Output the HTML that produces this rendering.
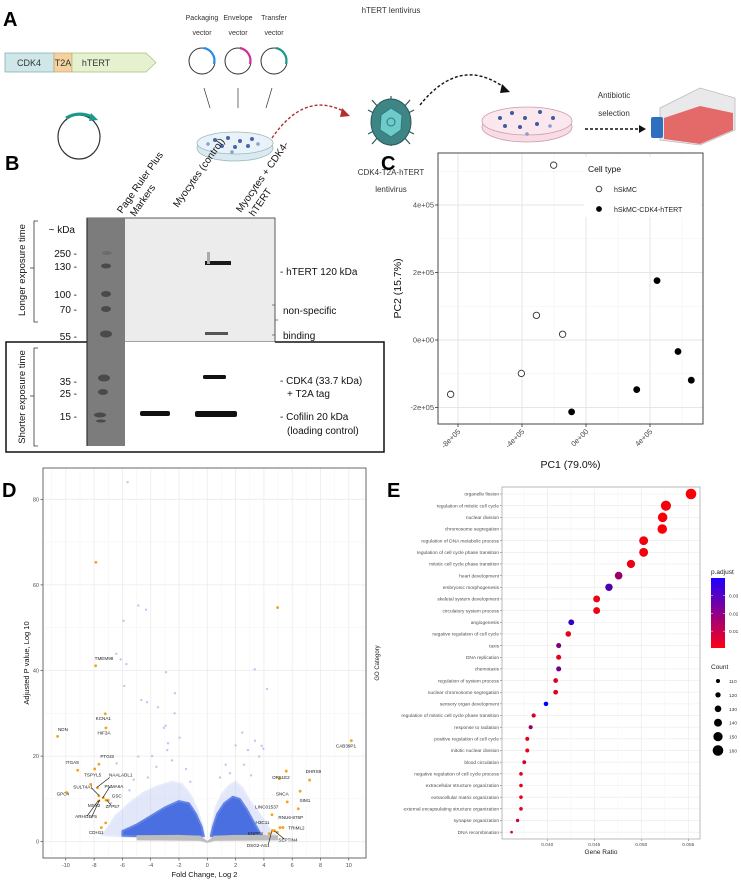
<!DOCTYPE html>
<html><head><meta charset="utf-8">
<style>
html,body{margin:0;padding:0;background:#fff;}
svg{display:block;font-family:"Liberation Sans",sans-serif;}
.cond{font-family:"Liberation Sans Narrow","Liberation Sans",sans-serif;}
</style></head>
<body>
<svg id="fig" width="741" height="881" viewBox="0 0 741 881" xmlns="http://www.w3.org/2000/svg">
<!-- ================= Panel A ================= -->
<g>
  <text x="3" y="26" font-size="20" font-weight="bold">A</text>
  <g>
    <rect x="5" y="53" width="49" height="19" fill="#cfe7e8" stroke="#7aa" stroke-width="0.7"/>
    <rect x="54" y="53" width="18" height="19" fill="#f3d2a0" stroke="#c9a06a" stroke-width="0.7"/>
    <path d="M72,53 L146,53 L156,62.5 L146,72 L72,72 Z" fill="#e6f1cf" stroke="#a8bf7a" stroke-width="0.7"/>
    <text x="29" y="66" font-size="9" text-anchor="middle" fill="#333" class="cond">CDK4</text>
    <text x="63" y="66" font-size="9" text-anchor="middle" fill="#333" class="cond">T2A</text>
    <text x="96" y="66" font-size="9" text-anchor="middle" fill="#333" class="cond">hTERT</text>
  </g>
  <g>
    <ellipse cx="79" cy="137" rx="21" ry="22" fill="none" stroke="#333" stroke-width="1.2"/>
    <path d="M66,118 Q80,110 94,118" fill="none" stroke="#1a9a8a" stroke-width="3"/>
    <path d="M91,113 L98,120 L89,121 Z" fill="#1a9a8a"/>
  </g>
  <g font-size="7" text-anchor="middle" fill="#333" class="cond">
    <text x="202" y="20">Packaging</text><text x="202" y="35">vector</text>
    <text x="238" y="20">Envelope</text><text x="238" y="35">vector</text>
    <text x="274" y="20">Transfer</text><text x="274" y="35">vector</text>
    <circle cx="202" cy="61" r="13" fill="none" stroke="#333" stroke-width="1"/>
    <circle cx="238" cy="61" r="13" fill="none" stroke="#333" stroke-width="1"/>
    <circle cx="274" cy="61" r="13" fill="none" stroke="#333" stroke-width="1"/>
    <path d="M204,48 A13,13 0 0 1 214,64" fill="none" stroke="#2a8ee8" stroke-width="2.2"/>
    <path d="M240,48 A13,13 0 0 1 250,64" fill="none" stroke="#d0309a" stroke-width="2.2"/>
    <path d="M276,48 A13,13 0 0 1 286,64" fill="none" stroke="#1a9a8a" stroke-width="2.2"/>
    <line x1="204" y1="88" x2="210" y2="108" stroke="#333" stroke-width="0.7"/>
    <line x1="238" y1="88" x2="238" y2="108" stroke="#333" stroke-width="0.7"/>
    <line x1="272" y1="88" x2="266" y2="108" stroke="#333" stroke-width="0.7"/>
  </g>
  <g>
    <ellipse cx="235" cy="148" rx="38" ry="13" fill="#dbe9f3" stroke="#9bb" stroke-width="0.8"/>
    <ellipse cx="235" cy="143" rx="38" ry="11" fill="#e9f2f8" stroke="#9bb" stroke-width="0.8"/>
    <g fill="#4a64a8">
      <circle cx="215" cy="140" r="2"/><circle cx="228" cy="138" r="2"/><circle cx="240" cy="141" r="2"/><circle cx="252" cy="139" r="2"/>
      <circle cx="222" cy="146" r="2"/><circle cx="235" cy="147" r="2"/><circle cx="248" cy="146" r="2"/><circle cx="258" cy="144" r="1.8" fill="#8aa0d0"/>
      <circle cx="208" cy="144" r="1.8" fill="#8aa0d0"/><circle cx="232" cy="152" r="1.8" fill="#8aa0d0"/>
    </g>
  </g>
  <path d="M272,138 Q305,90 345,112" fill="none" stroke="#b03030" stroke-width="1.4" stroke-dasharray="3,2"/>
  <path d="M342,108 L350,116 L340,117 Z" fill="#b03030"/>
  <text x="391" y="13" font-size="8" text-anchor="middle" fill="#333" class="cond">hTERT lentivirus</text>
  <g>
    <g stroke="#2c5a5a" stroke-width="1.2">
      <line x1="391" y1="96" x2="391" y2="146"/><line x1="368" y1="110" x2="414" y2="134"/><line x1="368" y1="134" x2="414" y2="110"/>
      <line x1="372" y1="100" x2="410" y2="144"/><line x1="410" y1="100" x2="372" y2="144"/>
    </g>
    <ellipse cx="391" cy="122" rx="20" ry="23" fill="#3f8585" stroke="#2c5a5a"/>
    <path d="M391,108 L402,115 L401,130 L391,137 L380,130 L381,115 Z" fill="#6fcaca" stroke="#2c7a7a"/>
    <circle cx="391" cy="122" r="4" fill="none" stroke="#2c7a7a"/>
  </g>
  <text x="391" y="175" font-size="8" text-anchor="middle" fill="#333" class="cond">CDK4-T2A-hTERT</text>
  <text x="391" y="192" font-size="8" text-anchor="middle" fill="#333" class="cond">lentivirus</text>
  <path d="M420,105 Q460,55 505,88" fill="none" stroke="#111" stroke-width="1.4" stroke-dasharray="3,2"/>
  <path d="M502,84 L510,92 L500,93 Z" fill="#111"/>
  <g>
    <ellipse cx="527" cy="127" rx="45" ry="15" fill="#f7dce6" stroke="#c9a" stroke-width="0.8"/>
    <ellipse cx="527" cy="121" rx="45" ry="14" fill="#fbe8ef" stroke="#c9a" stroke-width="0.8"/>
    <g fill="#3e5aa0">
      <circle cx="500" cy="118" r="2"/><circle cx="512" cy="113" r="2"/><circle cx="525" cy="118" r="2"/><circle cx="540" cy="112" r="2"/>
      <circle cx="553" cy="118" r="2"/><circle cx="505" cy="126" r="2"/><circle cx="520" cy="127" r="2"/><circle cx="537" cy="124" r="2"/>
      <circle cx="550" cy="126" r="1.8" fill="#8a9ad0"/><circle cx="527" cy="134" r="1.8" fill="#8a9ad0"/>
    </g>
  </g>
  <text x="614" y="98" font-size="8" text-anchor="middle" fill="#333" class="cond">Antibiotic</text>
  <text x="614" y="116" font-size="8" text-anchor="middle" fill="#333" class="cond">selection</text>
  <line x1="585" y1="129" x2="640" y2="129" stroke="#111" stroke-width="1.4" stroke-dasharray="3,2"/>
  <path d="M639,125 L646,129 L639,133 Z" fill="#111"/>
  <g>
    <path d="M660,108 L700,88 L735,98 L735,130 L700,145 L660,140 Z" fill="#e9e9ec" stroke="#bbb" stroke-width="0.8"/>
    <path d="M664,118 L700,106 L733,113 L733,130 L700,144 L664,139 Z" fill="#e46a6a"/>
    <rect x="651" y="117" width="12" height="21" rx="2" fill="#2f6fc0"/>
  </g>
</g>

<!-- ================= Panel B ================= -->
<g>
  <text x="5" y="170" font-size="20" font-weight="bold">B</text>
  <g font-size="10" fill="#111">
    <text transform="translate(122,214) rotate(-55)">Page Ruler Plus</text>
    <text transform="translate(135,217) rotate(-55)">Markers</text>
    <text transform="translate(178,208) rotate(-55)">Myocytes (control)</text>
    <text transform="translate(241,213) rotate(-55)">Myocytes + CDK4-</text>
    <text transform="translate(254,217) rotate(-55)">hTERT</text>
  </g>
  <rect x="6" y="342" width="378" height="110" fill="none" stroke="#111" stroke-width="1.5"/>
  <g>
    <rect x="87" y="218" width="188" height="124" fill="#ececec" stroke="#333" stroke-width="0.8"/>
    <rect x="87" y="342" width="188" height="104" fill="#ffffff"/>
    <rect x="87" y="218" width="38" height="228" fill="#7c7c7c"/>
    <line x1="87" y1="218" x2="87" y2="446" stroke="#333" stroke-width="1.2"/>
    <g fill="#4a4a4a">
      <ellipse cx="107" cy="253" rx="5" ry="2" fill="#6c6c6c"/>
      <ellipse cx="106" cy="266" rx="5" ry="2.5"/><ellipse cx="106" cy="294" rx="5" ry="3"/>
      <ellipse cx="106" cy="309" rx="5" ry="3"/><ellipse cx="106" cy="334" rx="6" ry="3.5"/>
      <ellipse cx="104" cy="378" rx="6" ry="3.5"/><ellipse cx="103" cy="392" rx="5" ry="3"/>
      <ellipse cx="100" cy="415" rx="6" ry="2.5"/><ellipse cx="101" cy="421" rx="5" ry="1.5"/>
    </g>
    <rect x="205" y="261" width="26" height="4" fill="#1a1a1a"/>
    <rect x="207" y="252" width="3" height="12" fill="#aaa"/>
    <rect x="205" y="332" width="23" height="3" fill="#555"/>
    <rect x="203" y="375" width="23" height="4" rx="1.5" fill="#111"/>
    <rect x="140" y="411" width="30" height="5" rx="2" fill="#111"/>
    <rect x="195" y="411" width="42" height="6" rx="2" fill="#111"/>
  </g>
  <g font-size="10" fill="#111" text-anchor="end">
    <text x="75" y="233">~ kDa</text>
    <text x="77" y="257">250 -</text><text x="77" y="270">130 -</text><text x="77" y="298">100 -</text>
    <text x="77" y="313">70 -</text><text x="77" y="340">55 -</text>
    <text x="77" y="385">35 -</text><text x="77" y="397">25 -</text><text x="77" y="420">15 -</text>
  </g>
  <g font-size="10" fill="#111">
    <text x="280" y="275">- hTERT 120 kDa</text>
    <path d="M272,305 L275,305 L275,335 L272,335 M275,320 L278,320" fill="none" stroke="#555" stroke-width="0.8"/>
    <text x="283" y="314">non-specific</text><text x="283" y="339">binding</text>
    <text x="280" y="384">- CDK4 (33.7 kDa)</text><text x="287" y="397">+ T2A tag</text>
    <text x="280" y="420">- Cofilin 20 kDa</text><text x="287" y="434">(loading control)</text>
  </g>
  <path d="M38,221 L34,221 L34,322 L38,322 M34,268 L30,268" fill="none" stroke="#333" stroke-width="0.8"/>
  <path d="M38,348 L34,348 L34,446 L38,446 M34,396 L30,396" fill="none" stroke="#333" stroke-width="0.8"/>
  <text transform="translate(25,270) rotate(-90)" font-size="9.5" text-anchor="middle" fill="#111">Longer exposure time</text>
  <text transform="translate(25,397) rotate(-90)" font-size="9.5" text-anchor="middle" fill="#111">Shorter exposure time</text>
</g>

<!-- ================= Panel C ================= -->
<g id="panelC">
  <text x="381" y="170" font-size="20" font-weight="bold">C</text>
</g>
<!-- ================= Panel D ================= -->
<g id="panelD">
  <text x="2" y="497" font-size="20" font-weight="bold">D</text>
</g>
<!-- ================= Panel E ================= -->
<g id="panelE">
  <text x="387" y="497" font-size="20" font-weight="bold">E</text>
</g>
</svg>

<script>
// ---------- Panel C data ----------
const pcaCtrlX = [-2.02e5, -3.1e5, -1.46e5, -4.04e5, -8.46e5];
const pcaCtrlY = [5.18e5, 0.73e5, 0.17e5, -0.99e5, -1.61e5];
const pcaTxX = [-0.9e5, 3.17e5, 4.44e5, 5.75e5, 6.58e5];
const pcaTxY = [-2.13e5, -1.47e5, 1.76e5, -0.34e5, -1.19e5];
const pcaXTicks = [-8e5, -4e5, 0, 4e5];
const pcaXTickLabels = ["-8e+05", "-4e+05", "0e+00", "4e+05"];
const pcaYTicks = [-2e5, 0, 2e5, 4e5];
const pcaYTickLabels = ["-2e+05", "0e+00", "2e+05", "4e+05"];

// ---------- Panel D data ----------
const volXTicks = [-10, -8, -6, -4, -2, 0, 2, 4, 6, 8, 10];
const volYTicks = [0, 20, 40, 60, 80];
const sigFC = [-7.87, 4.97, -7.89, -7.21, -7.16, -10.58, 10.18, -7.66, -9.16, -7.96, 5.58, 5.09, 7.23, -8.24, -7.77, -9.94, 6.56, -7.66, -7.35, -7.66, -7.16, -7.0, 5.65, 6.43, 4.57, -7.18, -7.49, 5.14, 5.35, 4.6, 4.74, 4.38, 4.95];
const sigP  = [65.3, 54.7, 41.1, 29.9, 26.6, 24.6, 23.6, 18.1, 16.7, 17.0, 16.5, 14.7, 14.4, 13.4, 12.6, 11.5, 11.8, 10.7, 10.3, 9.5, 9.7, 9.7, 9.3, 7.7, 6.3, 4.4, 3.3, 3.3, 3.3, 2.6, 2.6, 1.9, 2.2];
const bgFC = [-5.63, -4.88, -4.33, -5.91, -6.43, -6.12, -5.72, -5.87, -2.92, 3.35, 4.22, -2.29, -4.66, -4.26, -3.49, -2.31, -2.94, -3.06, -1.96, 2.47, 3.37, 3.84, 3.96, 2.87, 2.0, 3.67, -2.78, -2.83, -6.41, -4.88, -3.6, -4.2, -1.5, -5.2, 1.6, 2.6, 3.1, -3.9, -2.5, -1.2, 0.9, 1.3, -6.8, -5.5];
const bgP  = [84.0, 55.2, 54.2, 51.6, 43.9, 42.6, 41.5, 36.4, 39.6, 40.3, 35.7, 34.7, 33.1, 32.6, 31.4, 30.0, 27.1, 26.6, 24.3, 25.5, 23.6, 22.4, 21.7, 21.4, 22.5, 19.9, 23.0, 21.4, 18.3, 19.9, 17.5, 15.0, 17.0, 14.5, 16.0, 18.0, 15.5, 20.0, 19.0, 14.0, 15.0, 18.0, 9.0, 12.0];
const geneNames = ["TMEM98","KCNA1","HIF3A","NDN","CAB39P1","PTGIS","ITGA8","TSPYL5","NAALADL1","SULT4A1","PNMA6A","GPC4","GSC","MSX2","ZFP57","ARHGEF5","CDH11","OR51E2","DHRS9","SNCA","SIM1","LINC01537","RNU6-876P","H3C11","TRIML2","ENPP4","SEPTIN4","DSG2-AS1"];
const geneLabelFC = [-7.3, -7.35, -7.3, -10.2, 9.8, -7.07, -9.55, -8.1, -6.12, -8.78, -6.6, -10.21, -6.4, -8.0, -6.7, -8.57, -7.85, 5.2, 7.5, 5.3, 6.9, 4.2, 5.9, 3.9, 6.3, 3.4, 5.7, 3.6];
const geneLabelP  = [42.5, 28.4, 25.0, 25.9, 22.0, 19.6, 18.1, 15.2, 15.2, 12.4, 12.6, 10.8, 10.3, 8.1, 7.9, 5.5, 1.8, 14.7, 16.1, 10.8, 9.3, 7.7, 5.3, 4.1, 2.8, 1.6, 0.1, -1.2];
const cloudLeftFC = [-7.2, -6.5, -5.5, -4.5, -3.5, -2.5, -1.8, -1.2, -0.7, -0.35, -0.2, -2, -4, -6, -7.5];
const cloudLeftP  = [2.5, 6, 9, 11.5, 13, 14, 13.5, 11, 7.5, 4, 1.2, 1.0, 1.0, 1.2, 1.6];
const coreLeftFC = [-6.0, -5.0, -4.0, -3.0, -2.0, -1.3, -0.8, -0.4, -0.25, -2, -4, -6];
const coreLeftP  = [2.5, 4, 6, 8, 9.5, 9, 6.5, 3.5, 1.3, 1.2, 1.2, 1.4];
const cloudRightFC = [0.2, 0.35, 0.6, 1.0, 1.5, 2.0, 2.5, 3.0, 3.6, 4.3, 4.8, 3, 1];
const cloudRightP  = [1.2, 4, 8, 11, 13, 14, 12.5, 9.5, 7, 3.5, 1.5, 1.1, 1.0];
const coreRightFC = [0.25, 0.4, 0.7, 1.2, 1.8, 2.3, 2.8, 3.3, 3.8, 2.5, 1.0];
const coreRightP  = [1.3, 3.5, 6.5, 9, 10.5, 10, 7.5, 4.5, 1.6, 1.2, 1.2];
const baseFC = [-5, -2, -0.5, 0, 0.5, 2, 5, 5, 0.5, 0, -0.5, -5];
const baseP  = [1.5, 1.6, 1.4, 0.2, 1.4, 1.6, 1.5, 0.3, 0.2, -0.3, 0.2, 0.3];

// ---------- Panel E data ----------
const goTerms = ["organelle fission","regulation of mitotic cell cycle","nuclear division","chromosome segregation","regulation of DNA metabolic process","regulation of cell cycle phase transition","mitotic cell cycle phase transition","heart development","embryonic morphogenesis","skeletal system development","circulatory system process","angiogenesis","negative regulation of cell cycle","taxis","DNA replication","chemotaxis","regulation of system process","nuclear chromosome segregation","sensory organ development","regulation of mitotic cell cycle phase transition","response to radiation","positive regulation of cell cycle","mitotic nuclear division","blood circulation","negative regulation of cell cycle process","extracellular structure organization","extracellular matrix organization","external encapsulating structure organization","synapse organization","DNA recombination"];
const goRatio = [0.05529, 0.05262, 0.05227, 0.05223, 0.05025, 0.05025, 0.0489, 0.04759, 0.04656, 0.04525, 0.04525, 0.04255, 0.04223, 0.04121, 0.04121, 0.04121, 0.04089, 0.04089, 0.03986, 0.03855, 0.03823, 0.03787, 0.03787, 0.03755, 0.0372, 0.0372, 0.0372, 0.0372, 0.03684, 0.0362];
const goPadj = [0.001, 0.002, 0.001, 0.001, 0.002, 0.002, 0.003, 0.016, 0.028, 0.003, 0.003, 0.032, 0.004, 0.02, 0.004, 0.022, 0.005, 0.005, 0.04, 0.006, 0.016, 0.004, 0.004, 0.007, 0.004, 0.004, 0.004, 0.004, 0.008, 0.006];
const goCount = [160, 156, 152, 152, 147, 147, 142, 138, 136, 132, 132, 124, 122, 118, 118, 118, 116, 116, 114, 112, 111, 110, 110, 109, 107, 107, 107, 107, 105, 100];
const goXTicks = [0.040, 0.045, 0.050, 0.055];
const goXTickLabels = ["0.040", "0.045", "0.050", "0.055"];
const countLegend = [110, 120, 130, 140, 150, 160];
const padjLegendTicks = [0.01, 0.02, 0.03];

const NS = "http://www.w3.org/2000/svg";
function mk(parent, tag, attrs, text) {
  const e = document.createElementNS(NS, tag);
  for (const k in attrs) e.setAttribute(k, attrs[k]);
  if (text !== undefined) e.textContent = text;
  parent.appendChild(e);
  return e;
}

// ================= Panel C =================
(function(){
  const g = document.getElementById('panelC');
  const L = 438, R = 703, T = 153, B = 424;
  const xS = v => 586 + v * 64 / 4e5;
  const yS = v => 340 - v * 135 / 4e5;
  const bg = mk(g, 'rect', {x:L, y:T, width:R-L, height:B-T, fill:'#fff'});
  
  
  for (let v = -10e5; v <= 8e5; v += 2e5) {
    const x = xS(v); if (x > L && x < R) mk(g, 'line', {x1:x, x2:x, y1:T, y2:B, stroke:'#f2f2f2', 'stroke-width':0.6});
  }
  for (let v = -3e5; v <= 6e5; v += 2e5) {
    const y = yS(v); if (y > T && y < B) mk(g, 'line', {x1:L, x2:R, y1:y, y2:y, stroke:'#f2f2f2', 'stroke-width':0.6});
  }
  pcaXTicks.forEach((v, i) => {
    const x = xS(v);
    mk(g, 'line', {x1:x, x2:x, y1:T, y2:B, stroke:'#e6e6e6', 'stroke-width':1});
    mk(g, 'line', {x1:x, x2:x, y1:B, y2:B+3, stroke:'#333', 'stroke-width':0.8});
    const t = mk(g, 'text', {transform:`translate(${x+3},${B+8}) rotate(-45)`, 'font-size':7.5, fill:'#4d4d4d', 'text-anchor':'end'}, pcaXTickLabels[i]);
    
    
  });
  pcaYTicks.forEach((v, i) => {
    const y = yS(v);
    mk(g, 'line', {x1:L, x2:R, y1:y, y2:y, stroke:'#e6e6e6', 'stroke-width':1});
    mk(g, 'line', {x1:L-3, x2:L, y1:y, y2:y, stroke:'#333', 'stroke-width':0.8});
    const t = mk(g, 'text', {x:L-4, y:y+2.7, 'font-size':7.5, fill:'#4d4d4d', 'text-anchor':'end'}, pcaYTickLabels[i]);
    
    
  });
  pcaCtrlX.forEach((v, i) => {
    const c = mk(g, 'circle', {cx:xS(v), cy:yS(pcaCtrlY[i]), r:3.2, fill:'#fff', stroke:'#333', 'stroke-width':0.9});
    
    
  });
  pcaTxX.forEach((v, i) => {
    const c = mk(g, 'circle', {cx:xS(v), cy:yS(pcaTxY[i]), r:3.4, fill:'#000'});
    
    
  });
  mk(g, 'rect', {x:L, y:T, width:R-L, height:B-T, fill:'none', stroke:'#333', 'stroke-width':0.9});
  const lg = mk(g, 'g', {});
  
  
  mk(lg, 'rect', {x:584, y:157, width:117, height:60, fill:'#fff'});
  mk(lg, 'text', {x:588, y:172, 'font-size':8.5, fill:'#111'}, 'Cell type');
  mk(lg, 'circle', {cx:599, cy:189, r:2.8, fill:'#fff', stroke:'#333', 'stroke-width':0.9});
  mk(lg, 'text', {x:614, y:192, 'font-size':7, fill:'#222'}, 'hSkMC');
  mk(lg, 'circle', {cx:599, cy:209, r:2.9, fill:'#000'});
  mk(lg, 'text', {x:614, y:212, 'font-size':7, fill:'#222'}, 'hSkMC-CDK4-hTERT');
  const xt = mk(g, 'text', {x:(L+R)/2, y:468, 'font-size':10.5, 'text-anchor':'middle', fill:'#111'}, 'PC1 (79.0%)');
  
  
  const yt = mk(g, 'text', {transform:`translate(401,${(T+B)/2}) rotate(-90)`, 'font-size':10.5, 'text-anchor':'middle', fill:'#111'}, 'PC2 (15.7%)');
  
  
})();

// ================= Panel D =================
(function(){
  const g = document.getElementById('panelD');
  const L = 43, R = 366, T = 468, B = 858;
  const xS = v => 207.3 + v * 14.15;
  const yS = v => 841.7 - v * 4.28;
  mk(g, 'rect', {x:L, y:T, width:R-L, height:B-T, fill:'#fff'});
  for (let v = -11; v <= 11; v += 2) mk(g, 'line', {x1:xS(v), x2:xS(v), y1:T, y2:B, stroke:'#f3f3f3', 'stroke-width':0.5});
  for (let v = 10; v <= 90; v += 20) { const y = yS(v); if (y > T) mk(g, 'line', {x1:L, x2:R, y1:y, y2:y, stroke:'#f3f3f3', 'stroke-width':0.5}); }
  volXTicks.forEach(v => {
    const x = xS(v);
    mk(g, 'line', {x1:x, x2:x, y1:T, y2:B, stroke:'#ebebeb', 'stroke-width':0.8});
    mk(g, 'line', {x1:x, x2:x, y1:B, y2:B+2.5, stroke:'#333', 'stroke-width':0.6});
    const t = mk(g, 'text', {x:x, y:B+9, 'font-size':5.5, fill:'#4d4d4d', 'text-anchor':'middle'}, String(v));
    
    
  });
  volYTicks.forEach(v => {
    const y = yS(v);
    mk(g, 'line', {x1:L, x2:R, y1:y, y2:y, stroke:'#ebebeb', 'stroke-width':0.8});
    mk(g, 'line', {x1:L-2.5, x2:L, y1:y, y2:y, stroke:'#333', 'stroke-width':0.6});
    const t = mk(g, 'text', {x:L-4, y:y+2, 'font-size':5.5, fill:'#4d4d4d', 'text-anchor':'end'}, String(v));
    
    
  });
  const poly = (fx, fy, attrs, name) => {
    const p = mk(g, 'polygon', Object.assign({points: fx.map((v,i)=>xS(v)+','+yS(fy[i])).join(' ')}, attrs));
    
    
  };
  poly(cloudLeftFC, cloudLeftP, {fill:'#b8c5f2', opacity:0.4, stroke:'#c8d2f5', 'stroke-width':2, 'stroke-linejoin':'round'}, 'volcano-cloud-down');
  poly(cloudRightFC, cloudRightP, {fill:'#b8c5f2', opacity:0.4, stroke:'#c8d2f5', 'stroke-width':2, 'stroke-linejoin':'round'}, 'volcano-cloud-up');
  poly(coreLeftFC, coreLeftP, {fill:'#4a6fe0', stroke:'#6584e6', 'stroke-width':2, 'stroke-linejoin':'round'}, 'volcano-core-down');
  poly(coreRightFC, coreRightP, {fill:'#4a6fe0', stroke:'#6584e6', 'stroke-width':2, 'stroke-linejoin':'round'}, 'volcano-core-up');
  poly(baseFC, baseP, {fill:'#bdbdbd'}, 'volcano-nonsig-base');
  bgFC.forEach((v, i) => {
    const c = mk(g, 'circle', {cx:xS(v), cy:yS(bgP[i]), r:1.2, fill:'#9fb2ee', opacity:0.7});
    
    
  });
  sigFC.forEach((v, i) => {
    const c = mk(g, 'circle', {cx:xS(v), cy:yS(sigP[i]), r:1.4, fill:'#f5a21b'});
    
    
  });
  const seg = (a,b,c,d) => mk(g, 'line', {x1:xS(a), y1:yS(b), x2:xS(c), y2:yS(d), stroke:'#111', 'stroke-width':0.6});
  seg(-7.8,12.7,-6.9,15.0); seg(-7.65,10.8,-8.2,12.6); seg(-7.4,10.2,-6.9,12.8);
  seg(-7.7,9.6,-8.5,6.0); seg(-7.6,9.8,-8.2,5.6); seg(-7.1,9.7,-6.8,8.5);
  seg(4.55,2.4,4.3,-0.8); seg(4.75,2.5,5.45,0.6);
  geneNames.forEach((n, i) => {
    const t = mk(g, 'text', {x:xS(geneLabelFC[i]), y:yS(geneLabelP[i]), 'font-size':4.6, fill:'#222', 'text-anchor':'middle'}, n);
    
    
  });
  mk(g, 'rect', {x:L, y:T, width:R-L, height:B-T, fill:'none', stroke:'#444', 'stroke-width':0.8});
  const xt = mk(g, 'text', {x:(L+R)/2, y:877, 'font-size':7.5, 'text-anchor':'middle', fill:'#111'}, 'Fold Change, Log 2');
  
  
  const yt = mk(g, 'text', {transform:'translate(29,663) rotate(-90)', 'font-size':7.5, 'text-anchor':'middle', fill:'#111'}, 'Adjusted P value, Log 10');
  
  
})();

// ================= Panel E =================
(function(){
  const g = document.getElementById('panelE');
  const L = 502, R = 700, T = 487, B = 839;
  const xS = v => 547.3 + (v - 0.040) / 0.005 * 47;
  const yS = i => 494 + i * 11.66;
  const rS = c => Math.max(0.9, 2 + (c - 110) / 50 * 3.3);
  const col = p => {
    const t = Math.min(1, Math.max(0, p / 0.04));
    const r = Math.round(255 * (1 - t)), b = Math.round(255 * t);
    return `rgb(${r},0,${b})`;
  };
  mk(g, 'rect', {x:L, y:T, width:R-L, height:B-T, fill:'#fff'});
  for (let v = 0.0375; v < 0.056; v += 0.005) mk(g, 'line', {x1:xS(v), x2:xS(v), y1:T, y2:B, stroke:'#f3f3f3', 'stroke-width':0.5});
  goXTicks.forEach((v, i) => {
    const x = xS(v);
    mk(g, 'line', {x1:x, x2:x, y1:T, y2:B, stroke:'#ebebeb', 'stroke-width':0.7});
    mk(g, 'line', {x1:x, x2:x, y1:B, y2:B+2, stroke:'#555', 'stroke-width':0.5});
    const t = mk(g, 'text', {x:x, y:B+7, 'font-size':4.8, fill:'#4d4d4d', 'text-anchor':'middle'}, goXTickLabels[i]);
    
    
  });
  goTerms.forEach((n, i) => {
    const y = yS(i);
    mk(g, 'line', {x1:L, x2:R, y1:y, y2:y, stroke:'#ebebeb', 'stroke-width':0.6});
    mk(g, 'line', {x1:L-2, x2:L, y1:y, y2:y, stroke:'#555', 'stroke-width':0.5});
    const t = mk(g, 'text', {x:L-3, y:y+1.7, 'font-size':4.8, fill:'#4d4d4d', 'text-anchor':'end'}, n);
    
    
  });
  goTerms.forEach((n, i) => {
    const c = mk(g, 'circle', {cx:xS(goRatio[i]), cy:yS(i), r:rS(goCount[i]), fill:col(goPadj[i])});
    
    
  });
  mk(g, 'rect', {x:L, y:T, width:R-L, height:B-T, fill:'none', stroke:'#aaa', 'stroke-width':0.8});
  const xt = mk(g, 'text', {x:(L+R)/2, y:854, 'font-size':6.5, 'text-anchor':'middle', fill:'#222'}, 'Gene Ratio');
  
  
  const yt = mk(g, 'text', {transform:'translate(379,663) rotate(-90)', 'font-size':6, 'text-anchor':'middle', fill:'#222'}, 'GO Category');
  
  
  const defs = mk(g, 'defs', {});
  const grad = mk(defs, 'linearGradient', {id:'padjGrad', x1:0, y1:1, x2:0, y2:0});
  mk(grad, 'stop', {offset:'0', 'stop-color':'rgb(255,0,20)'});
  mk(grad, 'stop', {offset:'1', 'stop-color':'rgb(30,0,255)'});
  const lt = mk(g, 'text', {x:711, y:574, 'font-size':6.5, fill:'#222'}, 'p.adjust');
  
  
  const bar = mk(g, 'rect', {x:711, y:578, width:14, height:70, fill:'url(#padjGrad)'});
  
  
  padjLegendTicks.forEach(v => {
    const y = 648 - (v - 0.0005) / 0.0395 * 70;
    mk(g, 'line', {x1:711, x2:713, y1:y, y2:y, stroke:'#fff', 'stroke-width':0.5});
    mk(g, 'line', {x1:723, x2:725, y1:y, y2:y, stroke:'#fff', 'stroke-width':0.5});
    mk(g, 'text', {x:729, y:y+2, 'font-size':4.8, fill:'#333'}, v.toFixed(2));
  });
  const ct = mk(g, 'text', {x:711, y:669, 'font-size':6.5, fill:'#222'}, 'Count');
  
  
  countLegend.forEach((c, i) => {
    const y = 681 + i * 13.9;
    const d = mk(g, 'circle', {cx:718, cy:y, r:rS(c), fill:'#000'});
    
    
    mk(g, 'text', {x:729, y:y+2, 'font-size':4.8, fill:'#333'}, String(c));
  });
})();
</script>
</body></html>
